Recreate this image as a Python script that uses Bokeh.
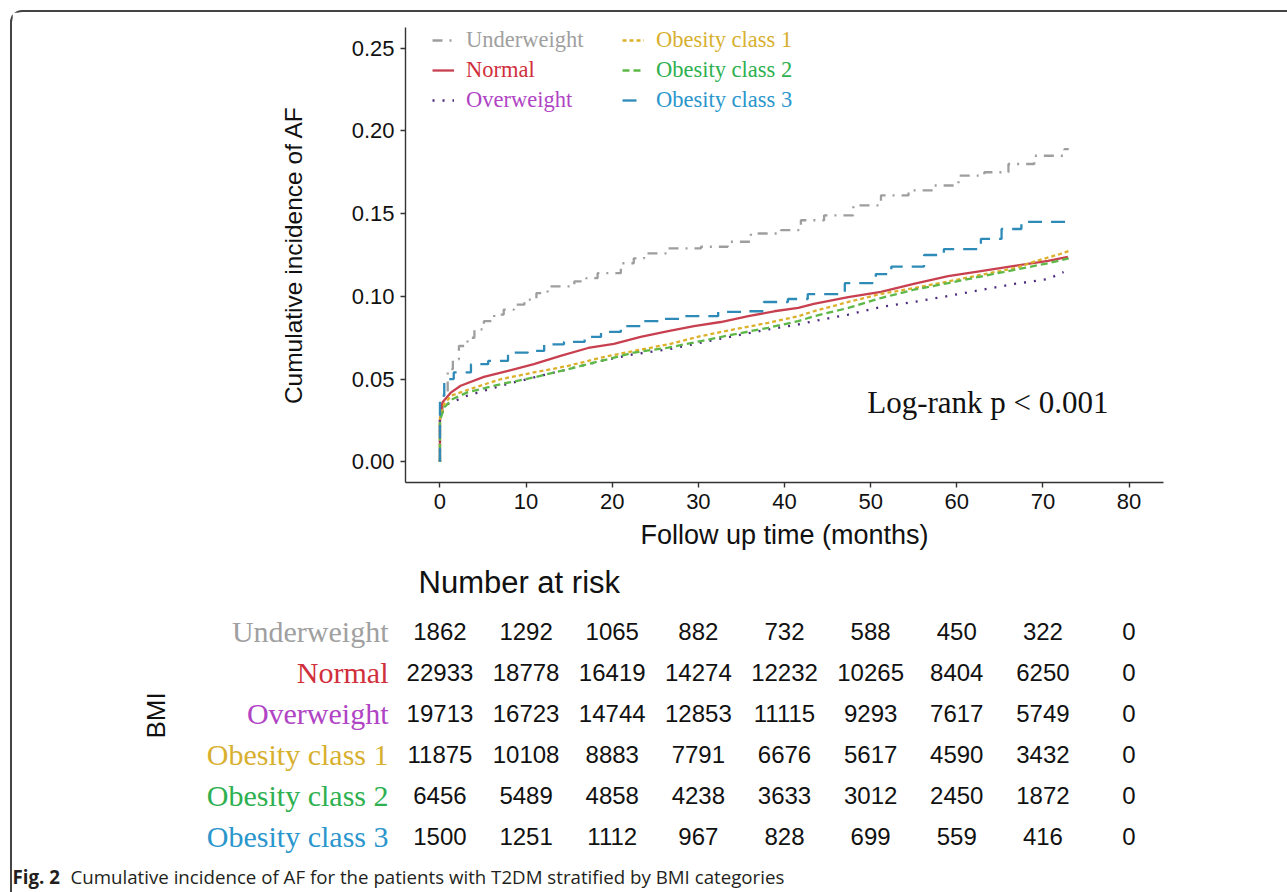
import math
from bokeh.plotting import figure
from bokeh.models import (Range1d, FixedTicker, PrintfTickFormatter, Legend,
                          LegendItem, Label, ColumnDataSource)
from bokeh.layouts import column
from bokeh.embed import file_html
from bokeh.resources import INLINE
from bokeh.core.properties import value

# ---------------- data ----------------
groups = ["Underweight", "Normal", "Overweight",
          "Obesity class 1", "Obesity class 2", "Obesity class 3"]

t_under = [0, 0, 0.3, 0.9, 1.5, 2.2, 3.2, 4.0, 5.1, 6.3, 7.4, 8.6, 9.8, 11.2, 12.5,
           15.6, 17.0, 18.3, 21.0, 22.5, 23.7, 26.5, 30.3, 33.4, 36.1, 39.6, 41.9,
           44.6, 48.0, 51.2, 54.4, 57.4, 60.2, 63.2, 66.0, 69.0, 72.5, 73.0]
v_under = [0, 0.030, 0.040, 0.056, 0.062, 0.070, 0.075, 0.080, 0.085, 0.089, 0.092,
           0.095, 0.098, 0.102, 0.106, 0.109, 0.111, 0.114, 0.120, 0.123, 0.126,
           0.129, 0.130, 0.133, 0.138, 0.140, 0.146, 0.149, 0.155, 0.161, 0.164,
           0.167, 0.173, 0.175, 0.180, 0.185, 0.189, 0.189]

t_normal = [0, 0, 0.3, 1.3, 2.4, 5.1, 7.9, 10.9, 14.0, 17.2, 20.2, 23.3, 26.5, 29.5,
            32.6, 35.8, 38.8, 41.6, 43.4, 47.4, 51.2, 55.0, 59.0, 62.8, 66.7, 70.6, 72.9]
v_normal = [0, 0.025, 0.036, 0.042, 0.046, 0.0513, 0.055, 0.059, 0.064, 0.0688, 0.0713,
            0.0755, 0.079, 0.082, 0.0845, 0.088, 0.091, 0.093, 0.0954, 0.0996, 0.1027,
            0.1075, 0.1123, 0.1153, 0.1184, 0.1214, 0.1238]

t_over = [0, 0, 0.9, 3.2, 7.1, 10.9, 14.9, 18.7, 22.5, 26.5, 30.3, 34.1, 38.1, 41.6,
          43.4, 47.4, 51.2, 55.0, 59.0, 62.8, 66.7, 70.6, 72.4]
v_over = [0, 0.028, 0.035, 0.040, 0.046, 0.051, 0.056, 0.061, 0.065, 0.068, 0.072,
          0.076, 0.080, 0.083, 0.085, 0.089, 0.0936, 0.0966, 0.1002, 0.1039, 0.1075,
          0.1105, 0.1147]

t_ob1 = [0, 0, 0.5, 1.3, 3.5, 7.1, 10.9, 14.9, 18.7, 22.5, 26.5, 30.3, 34.1, 38.1,
         41.6, 43.4, 47.4, 51.2, 55.0, 59.0, 62.8, 66.7, 69.0, 72.0, 73.0]
v_ob1 = [0, 0.026, 0.035, 0.040, 0.044, 0.050, 0.054, 0.058, 0.063, 0.067, 0.071,
         0.076, 0.080, 0.084, 0.088, 0.091, 0.0966, 0.1015, 0.105, 0.109, 0.113,
         0.117, 0.121, 0.1256, 0.1274]

t_ob2 = [0, 0, 0.5, 1.5, 3.2, 7.1, 10.9, 14.9, 18.7, 22.5, 26.5, 30.3, 34.1, 38.1,
         41.6, 43.4, 47.4, 51.2, 55.0, 59.0, 62.8, 66.7, 70.6, 73.0]
v_ob2 = [0, 0.025, 0.033, 0.038, 0.042, 0.047, 0.051, 0.056, 0.061, 0.066, 0.069,
         0.073, 0.077, 0.081, 0.085, 0.088, 0.093, 0.099, 0.104, 0.108, 0.112,
         0.116, 0.120, 0.123]

t_ob3 = [0, 0, 0.5, 1.6, 3.6, 5.6, 7.9, 10.2, 12.1, 14.4, 16.8, 18.7, 21.0, 23.3,
         25.7, 28.3, 32.3, 35.3, 37.6, 40.4, 42.7, 47.0, 50.6, 52.4, 56.2, 58.5,
         62.8, 65.2, 67.5, 73.0]
v_ob3 = [0, 0.040, 0.050, 0.054, 0.059, 0.061, 0.066, 0.067, 0.071, 0.0725, 0.0755,
         0.0785, 0.082, 0.085, 0.0864, 0.088, 0.0906, 0.091, 0.0966, 0.0984, 0.1014,
         0.108, 0.1135, 0.118, 0.125, 0.1286, 0.1347, 0.1407, 0.145, 0.145]

risk_times = [0, 10, 20, 30, 40, 50, 60, 70, 80]
risk_under = [1862, 1292, 1065, 882, 732, 588, 450, 322, 0]
risk_normal = [22933, 18778, 16419, 14274, 12232, 10265, 8404, 6250, 0]
risk_over = [19713, 16723, 14744, 12853, 11115, 9293, 7617, 5749, 0]
risk_ob1 = [11875, 10108, 8883, 7791, 6676, 5617, 4590, 3432, 0]
risk_ob2 = [6456, 5489, 4858, 4238, 3633, 3012, 2450, 1872, 0]
risk_ob3 = [1500, 1251, 1112, 967, 828, 699, 559, 416, 0]

x_ticks = [0, 10, 20, 30, 40, 50, 60, 70, 80]
y_ticks = [0.0, 0.05, 0.10, 0.15, 0.20, 0.25]

# ---------------- styles ----------------
line_colors = ["#9e9e9e", "#c8404f", "#4b2a7f", "#dcb02a", "#5db847", "#2e8bb8"]
text_colors = ["#a0a0a0", "#d0303c", "#b044c4", "#d8b030", "#2eb050", "#2a96cc"]
dashes = ["10 7 2 7", "solid", "2 8", "4 3", "7 4", "14 9"]
SANS = "Liberation Sans"
SERIF = "Liberation Serif"

W = 1275
ML, MR, MT, MB = 393, 124, 15, 78
H1 = 548
X0, X1 = -4, 84

p = figure(width=W, height=H1, x_range=Range1d(X0, X1), y_range=Range1d(-0.0125, 0.2625),
           output_backend="svg", toolbar_location=None, tools="", frame_align=False,
           min_border_left=ML, min_border_right=MR, min_border_top=MT, min_border_bottom=MB,
           x_axis_label="Follow up time (months)", y_axis_label="Cumulative incidence of AF")
p.outline_line_color = None
p.grid.visible = False
p.background_fill_color = "white"
p.border_fill_color = "white"

for ax in (p.xaxis[0], p.yaxis[0]):
    ax.axis_line_color = "#333333"
    ax.axis_line_width = 1.4
    ax.major_tick_line_color = "#333333"
    ax.major_tick_line_width = 1.4
    ax.major_tick_out = 5
    ax.major_tick_in = 0
    ax.minor_tick_line_color = None
    ax.major_label_text_font = SANS
    ax.major_label_text_font_size = "22px"
    ax.major_label_text_color = "#111111"
    ax.axis_label_text_font = SANS
    ax.axis_label_text_font_style = "normal"
    ax.axis_label_text_color = "#111111"
    ax.major_label_standoff = 6

p.xaxis.axis_label_text_font_size = "27px"
p.yaxis.axis_label_text_font_size = "24.5px"
p.xaxis.ticker = FixedTicker(ticks=x_ticks)
p.yaxis.ticker = FixedTicker(ticks=y_ticks)
p.yaxis.formatter = PrintfTickFormatter(format="%.2f")
p.yaxis.axis_label_standoff = 42
p.xaxis.axis_label_standoff = 8

series = [(t_under, v_under), (t_normal, v_normal), (t_over, v_over),
          (t_ob1, v_ob1), (t_ob2, v_ob2), (t_ob3, v_ob3)]
renderers = []
for i, (tt, vv) in enumerate(series):
    kw = dict(line_color=line_colors[i], line_width=2.3, line_dash=dashes[i])
    if i in (0, 5):
        r = p.step(tt, vv, mode="after", **kw)
    else:
        r = p.line(tt, vv, **kw)
    renderers.append(r)

# legends (one per item so each label has its own colour)
leg_pos = [(27, 429), (27, 399), (27, 369), (217, 429), (217, 399), (217, 369)]
for i, name in enumerate(groups):
    lg = Legend(items=[LegendItem(label=name, renderers=[renderers[i]])],
                location=leg_pos[i], orientation="vertical",
                label_text_font=SERIF, label_text_font_size="22.5px",
                label_text_color=text_colors[i], label_standoff=12,
                glyph_width=22, glyph_height=24, label_height=24,
                padding=0, margin=0, spacing=0,
                background_fill_alpha=0, border_line_color=None)
    p.add_layout(lg, "center")

LOGRANK_X, LOGRANK_Y = 49.6, 0.036
p.add_layout(Label(x=LOGRANK_X, y=LOGRANK_Y, text="Log-rank p < 0.001",
                   text_font=SERIF, text_font_size="31px", text_color="#111111",
                   text_baseline="alphabetic"))

# ---------------- risk table ----------------
scale = (W - ML - MR) / (X1 - X0)
H2 = 300
ROW0_PAGE = 631 - 560   # row 0 distance from table top (px)
ROW_H = 41
t_x0 = X0 - ML / scale
t_x1 = X1 + MR / scale
t_y1 = ROW0_PAGE / ROW_H
t_y0 = -(H2 - ROW0_PAGE) / ROW_H

t = figure(width=W, height=H2, x_range=Range1d(t_x0, t_x1), y_range=Range1d(t_y0, t_y1),
           output_backend="svg", toolbar_location=None, tools="", frame_align=False,
           min_border_left=0, min_border_right=0, min_border_top=0, min_border_bottom=0,
           x_axis_type=None, y_axis_type=None)
t.outline_line_color = None
t.grid.visible = False

risk_rows = [risk_under, risk_normal, risk_over, risk_ob1, risk_ob2, risk_ob3]
xs, ys, txt = [], [], []
for r_i, row in enumerate(risk_rows):
    for tm, n in zip(risk_times, row):
        xs.append(tm)
        ys.append(-r_i)
        txt.append(str(n))
t.text(x="x", y="y", text="t", source=ColumnDataSource(dict(x=xs, y=ys, t=txt)),
       text_font=value(SANS), text_font_size="24px", text_color="#111111",
       text_align="center", text_baseline="middle")

LABEL_X = (388 - 439.45) / scale
t.text(x=[LABEL_X] * 6, y=[-i for i in range(6)], text=groups,
       text_color=text_colors, text_font=value(SERIF), text_font_size="30px",
       text_align="right", text_baseline="middle")

TITLE_X = (418 - 439.45) / scale
TITLE_Y = (631 - 582) / ROW_H
t.text(x=[TITLE_X], y=[TITLE_Y], text=["Number at risk"], text_font=value(SANS),
       text_font_size="31px", text_color="#111111", text_align="left",
       text_baseline="middle")

BMI_X = (155 - 439.45) / scale
BMI_Y = (631 - 715) / ROW_H
t.text(x=[BMI_X], y=[BMI_Y], text=["BMI"], angle=math.pi / 2, text_font=value(SANS),
       text_font_size="26px", text_color="#111111", text_align="center",
       text_baseline="middle")

# ---------------- caption ----------------
H3 = 32
c = figure(width=W, height=H3, x_range=Range1d(0, W), y_range=Range1d(0, H3),
           output_backend="svg", toolbar_location=None, tools="", frame_align=False,
           min_border_left=0, min_border_right=0, min_border_top=0, min_border_bottom=0,
           x_axis_type=None, y_axis_type=None)
c.outline_line_color = None
c.grid.visible = False
c.text(x=[0], y=[16], text=["Fig. 2"], text_font=value("Open Sans"), text_font_size="18.7px",
       text_font_style="bold", text_color="#231f20", text_baseline="middle")
c.text(x=[58], y=[16],
       text=["Cumulative incidence of AF for the patients with T2DM stratified by BMI categories"],
       text_font=value("Open Sans"), text_font_size="18.7px", text_color="#231f20",
       text_baseline="middle")

layout = column(p, t, c, spacing=0,
                styles={"margin-left": "10px", "margin-top": "10px",
                        "border-left": "2px solid #444444",
                        "border-top": "2px solid #444444",
                        "border-top-left-radius": "12px"})

open("out.html", "w").write(file_html(layout, INLINE))
